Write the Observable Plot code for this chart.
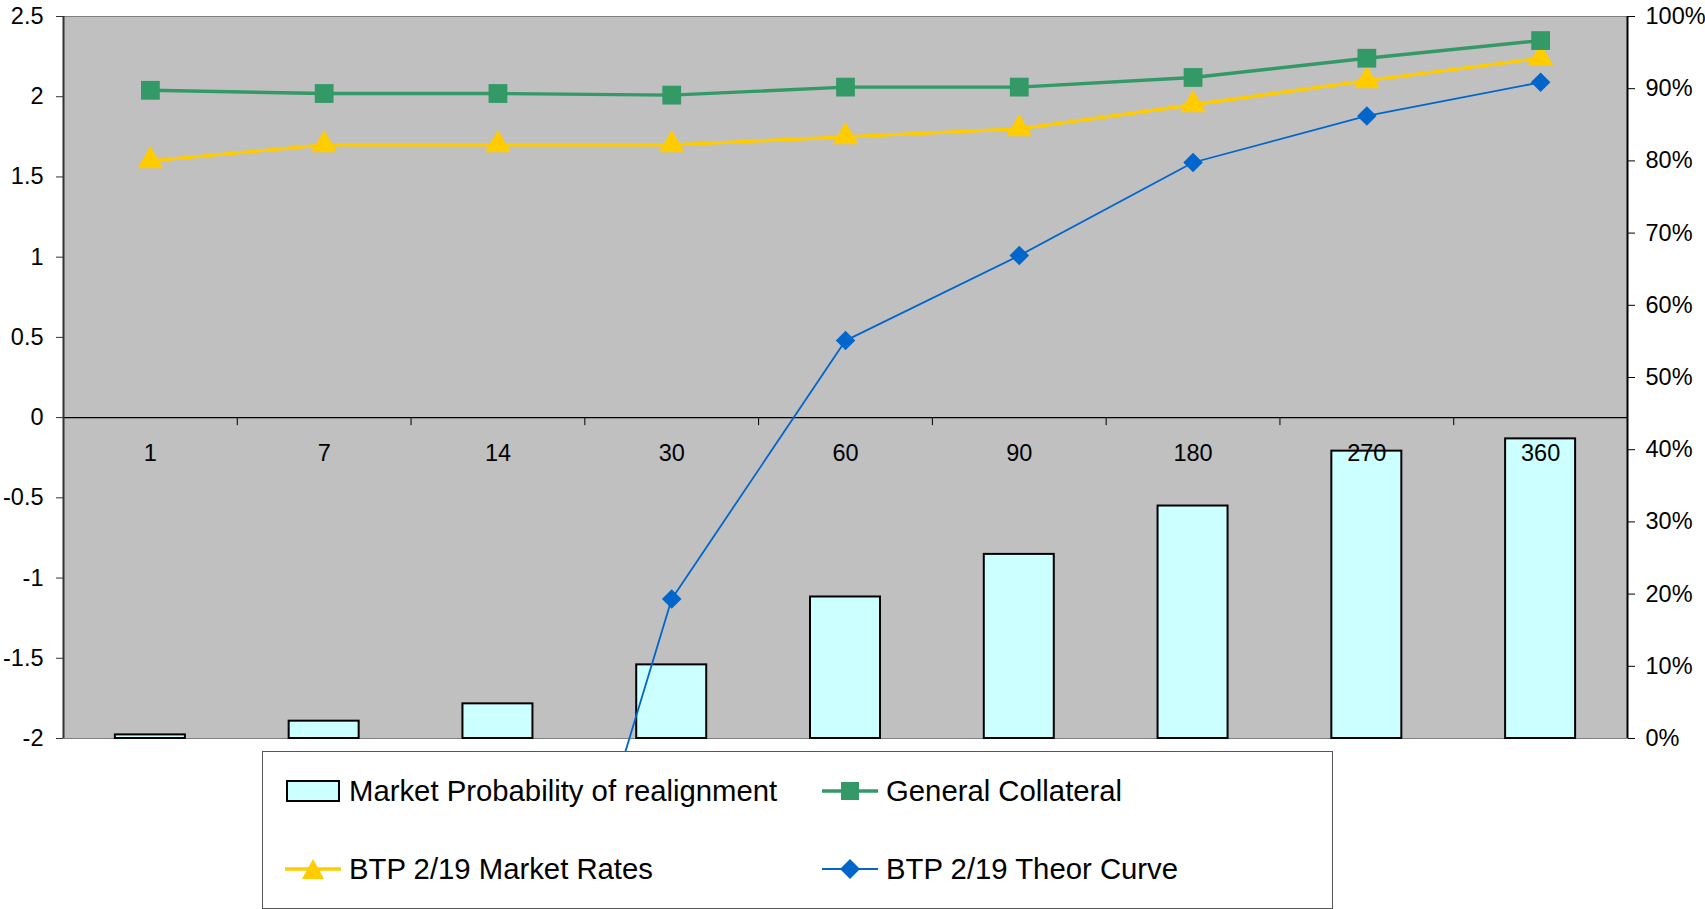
<!DOCTYPE html>
<html>
<head>
<meta charset="utf-8">
<script src="https://cdn.jsdelivr.net/npm/d3@7"></script>
<script src="https://cdn.jsdelivr.net/npm/@observablehq/plot@0.6"></script>
<style>
  html, body { margin: 0; padding: 0; background: white; }
  body { font-family: "Liberation Sans", Arial, sans-serif; width: 1705px; height: 909px; position: relative; overflow: hidden; }
  #chart svg { display: block; overflow: hidden; }
  #legend { position: absolute; left: 262px; top: 751px; width: 1071px; height: 158px; box-sizing: border-box; border: 1px solid #555; background: white; }
  .item { position: absolute; display: flex; align-items: center; font-size: 29.3px; color: #000; white-space: nowrap; transform: translateY(-50%); }
  .item svg { display: block; margin-right: 8px; }
</style>
</head>
<body>
<div id="chart"></div>
<div id="legend"></div>
<script>
// ---- data ----
const categories = ["1", "7", "14", "30", "60", "90", "180", "270", "360"];
const probability = [0.5, 2.4, 4.8, 10.2, 19.6, 25.5, 32.2, 39.8, 41.5];          // % (right axis)
const generalCollateral = [2.04, 2.02, 2.02, 2.01, 2.06, 2.06, 2.12, 2.24, 2.35];
const btpMarket = [1.60, 1.70, 1.70, 1.70, 1.75, 1.80, 1.95, 2.10, 2.24];
const btpTheorCats = ["14", "30", "60", "90", "180", "270", "360"];
const btpTheor = [-4.7, -1.13, 0.48, 1.01, 1.59, 1.88, 2.09];
const leftTicks = [-2, -1.5, -1, -0.5, 0, 0.5, 1, 1.5, 2, 2.5];
const rightTicks = [0, 10, 20, 30, 40, 50, 60, 70, 80, 90, 100];
const seriesNames = ["Market Probability of realignment", "General Collateral", "BTP 2/19 Market Rates", "BTP 2/19 Theor Curve"];

// ---- layout / style ----
const W = 1705, H = 751, mL = 63, mR = 78, mT = 16, mB = 13;
const yMin = -2, yMax = 2.5;
const bw = (W - mL - mR) / categories.length;
const pctToY = p => yMin + (p / 100) * (yMax - yMin);
const GREEN = "#339966", YELLOW = "#FFCC00", BLUE = "#0066CC", BAR = "#CCFFFF", BG = "#C0C0C0";

const bars = categories.map((c, i) => ({cat: c, p: probability[i]}));
const gc = categories.map((c, i) => ({cat: c, v: generalCollateral[i]}));
const bm = categories.map((c, i) => ({cat: c, v: btpMarket[i]}));
const bt = btpTheorCats.map((c, i) => ({cat: c, v: btpTheor[i]}));

const chart = Plot.plot({
  width: W, height: H,
  marginLeft: mL, marginRight: mR, marginTop: mT, marginBottom: mB,
  style: {fontFamily: "'Liberation Sans', Arial, sans-serif", fontSize: "23.5px", color: "#000", background: "white"},
  x: {type: "band", domain: categories, padding: 0, round: false, axis: null},
  y: {domain: [yMin, yMax], axis: null},
  marks: [
    Plot.frame({fill: BG, stroke: "#808080", strokeWidth: 1}),
    // bars on secondary (percent) axis
    Plot.barY(bars, {x: "cat", y1: () => pctToY(0), y2: d => pctToY(d.p), fill: BAR, stroke: "#000", strokeWidth: 2, insetLeft: (bw - 70) / 2, insetRight: (bw - 70) / 2}),
    // zero line + category ticks
    Plot.ruleY([0], {stroke: "#000", strokeWidth: 1.2}),
    Plot.ruleX(categories, {x: d => d, y1: 0, y2: -0.05, dx: -bw / 2, stroke: "#000", strokeWidth: 1}),
    // lines
    Plot.line(bt, {x: "cat", y: "v", stroke: BLUE, strokeWidth: 1.8}),
    Plot.line(bm, {x: "cat", y: "v", stroke: YELLOW, strokeWidth: 3.4}),
    Plot.line(gc, {x: "cat", y: "v", stroke: GREEN, strokeWidth: 3.4}),
    Plot.dot(bt, {x: "cat", y: "v", symbol: "diamond2", r: 8.8, fill: BLUE, stroke: null}),
    Plot.dot(bm, {x: "cat", y: "v", symbol: "triangle", r: 9.6, fill: YELLOW, stroke: null}),
    Plot.dot(gc, {x: "cat", y: "v", symbol: "square", r: 10.6, fill: GREEN, stroke: null}),
    // category labels below zero line
    Plot.text(categories, {x: d => d, y: 0, dy: 36, text: d => d, fontSize: 23.5, fill: "#000"}),
    // axis lines
    Plot.ruleX([categories[0]], {x: d => d, y1: yMin, y2: yMax, dx: -bw / 2, stroke: "#333", strokeWidth: 2}),
    Plot.ruleX([categories[categories.length - 1]], {x: d => d, y1: yMin, y2: yMax, dx: bw / 2, stroke: "#000", strokeWidth: 2}),
    Plot.axisY({anchor: "left", ticks: leftTicks, tickFormat: d => String(d), tickSize: 7, tickPadding: 13, fontSize: 23.5, label: null, stroke: "#333"}),
    Plot.axisY({anchor: "right", ticks: rightTicks.map(pctToY), tickFormat: (d, i) => rightTicks[i] + "%", tickSize: 7, tickPadding: 11, fontSize: 23.5, label: null, stroke: "#000"})
  ]
});
document.getElementById("chart").appendChild(chart);

// ---- legend ----
function swatch(kind) {
  if (kind === 0) return `<svg width="56" height="24"><rect x="2" y="2" width="52" height="20" fill="${BAR}" stroke="#000" stroke-width="2"/></svg>`;
  const col = [null, GREEN, YELLOW, BLUE][kind];
  const sw = kind === 3 ? 2 : 3.5;
  let marker;
  if (kind === 1) marker = `<rect x="19" y="6" width="18" height="18" fill="${col}"/>`;
  else if (kind === 2) marker = `<path d="M28,5 L39,25 L17,25 Z" fill="${col}"/>`;
  else marker = `<path d="M28,5 L38,15 L28,25 L18,15 Z" fill="${col}"/>`;
  return `<svg width="56" height="30"><line x1="0" y1="15" x2="56" y2="15" stroke="${col}" stroke-width="${sw}"/>${marker}</svg>`;
}
const pos = [[22, 39], [559, 39], [22, 117], [559, 117]];
const legend = document.getElementById("legend");
seriesNames.forEach((name, i) => {
  const d = document.createElement("div");
  d.className = "item";
  d.style.left = pos[i][0] + "px";
  d.style.top = pos[i][1] + "px";
  d.innerHTML = swatch(i) + `<span>${name}</span>`;
  legend.appendChild(d);
});
</script>
</body>
</html>
